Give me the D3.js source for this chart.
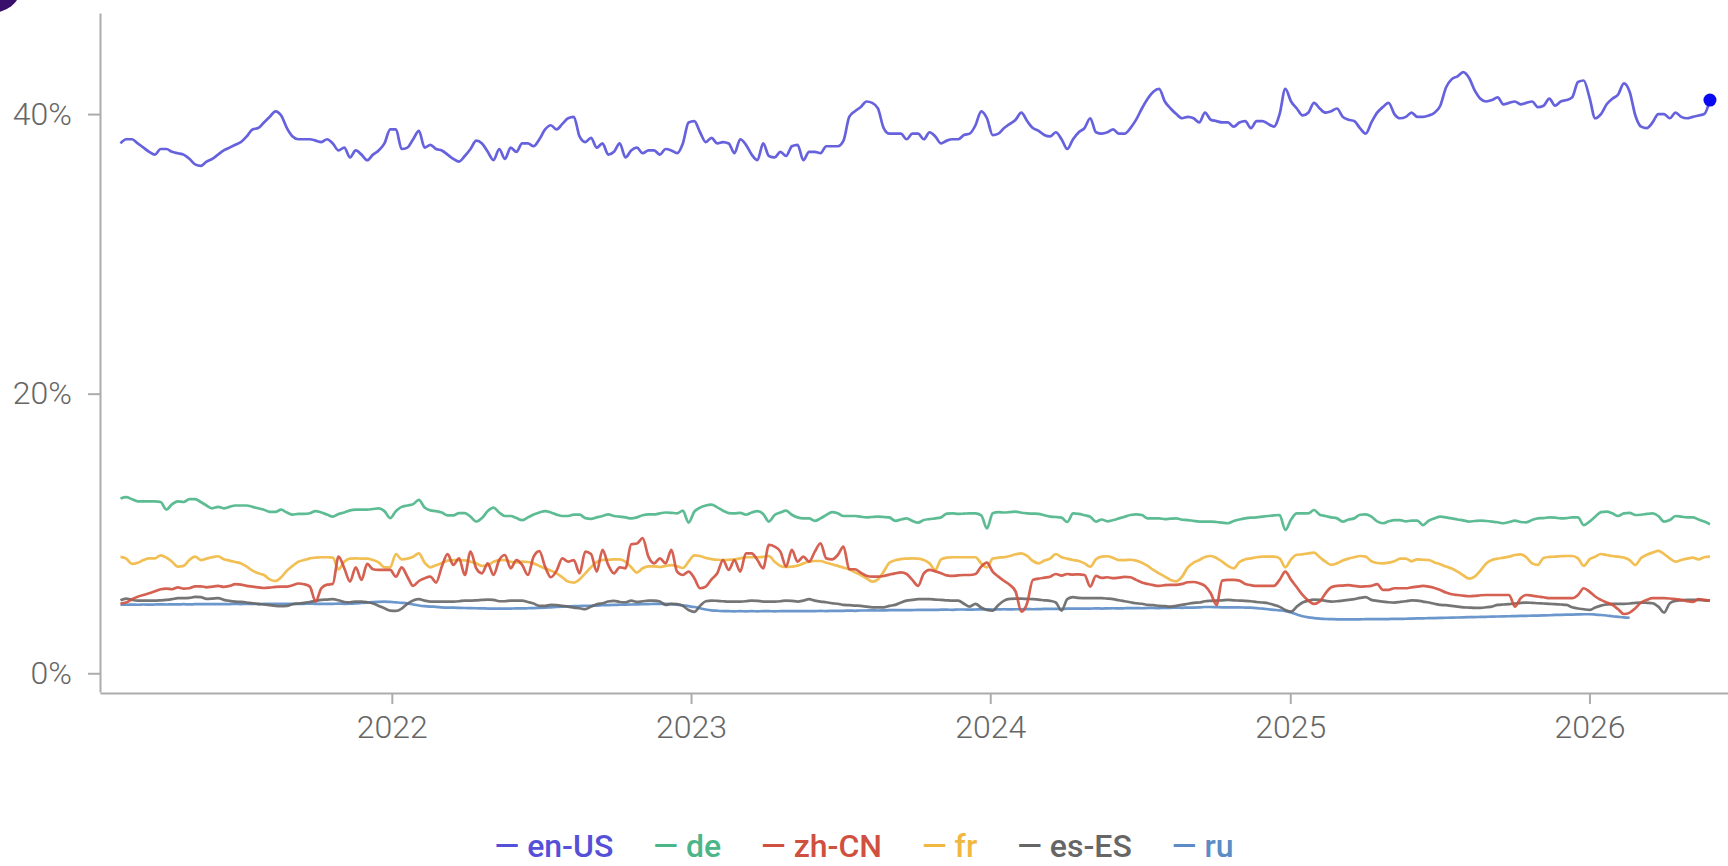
<html>
<head>
  <script src="https://cdn.jsdelivr.net/npm/d3@7"></script>
  <meta charset="UTF-8">
  <style>
  body {
    margin: 0;
    background: #fff;
    font-family: Roboto, "Noto Sans", sans-serif;
  }
  svg { display: block; }
  </style>
</head>
<body>
<div id="chart"></div>
<script>

// share of traffic per locale, weekly, in percent
const locales = ['en-US', 'de', 'zh-CN', 'fr', 'es-ES', 'ru'];
const colors  = ['#5550d8', '#4cb58a', '#d0503f', '#f0b840', '#666666', '#5b8cc6'];
const firstWeek = new Date(Date.UTC(2021, 1, 4));
const yTicks = [0, 20, 40];

const enUS = [
  37.9, 38.2, 38.2, 37.9, 37.6, 37.3, 37.1, 37.5, 37.5, 37.3,
  37.2, 37.1, 36.8, 36.4, 36.3, 36.6, 36.8, 37.1, 37.4, 37.6,
  37.8, 38.0, 38.4, 38.9, 39.0, 39.4, 39.8, 40.2, 39.9, 39.0,
  38.4, 38.2, 38.2, 38.2, 38.1, 38.0, 38.2, 37.9, 37.4, 37.6,
  36.9, 37.4, 37.1, 36.7, 37.1, 37.4, 37.9, 38.9, 38.9, 37.5,
  37.6, 38.2, 38.8, 37.6, 37.8, 37.5, 37.4, 37.1, 36.8, 36.6,
  37.0, 37.5, 38.1, 37.9, 37.3, 36.7, 37.5, 36.8, 37.6, 37.3,
  37.9, 37.9, 37.7, 38.2, 38.9, 39.2, 38.9, 39.3, 39.7, 39.8,
  38.4, 38.0, 38.3, 37.6, 37.9, 37.1, 37.3, 37.9, 36.9, 37.4,
  37.6, 37.2, 37.4, 37.4, 37.1, 37.5, 37.4, 37.2, 37.9, 39.4,
  39.5, 38.7, 38.0, 38.3, 37.9, 38.0, 37.9, 37.2, 38.2, 37.8,
  37.1, 36.7, 37.9, 37.0, 36.9, 37.3, 37.0, 37.7, 37.8, 36.7,
  37.3, 37.3, 37.2, 37.7, 37.7, 37.7, 38.1, 39.8, 40.2, 40.5,
  40.9, 40.8, 40.4, 39.0, 38.6, 38.6, 38.6, 38.2, 38.6, 38.6,
  38.2, 38.7, 38.4, 37.9, 38.1, 38.2, 38.2, 38.5, 38.6, 39.2,
  40.2, 39.7, 38.5, 38.6, 39.0, 39.3, 39.6, 40.1, 39.5, 39.0,
  38.8, 38.5, 38.4, 38.7, 38.2, 37.5, 38.2, 38.7, 39.0, 39.7,
  38.7, 38.6, 38.7, 38.9, 38.6, 38.6, 39.0, 39.6, 40.4, 41.1,
  41.6, 41.8, 40.9, 40.4, 40.0, 39.7, 39.8, 39.7, 39.4, 40.1,
  39.6, 39.5, 39.4, 39.4, 39.1, 39.4, 39.5, 39.0, 39.5, 39.5,
  39.3, 39.1, 40.0, 41.8, 40.9, 40.4, 39.9, 40.1, 40.8, 40.4,
  40.1, 40.2, 40.4, 39.8, 39.6, 39.5, 39.0, 38.6, 39.4, 40.1,
  40.5, 40.8, 40.0, 39.7, 39.8, 40.1, 39.8, 39.8, 39.9, 40.1,
  40.6, 41.9, 42.5, 42.7, 43.0, 42.6, 41.7, 41.1, 40.9, 41.0,
  41.2, 40.7, 40.8, 40.9, 40.7, 40.8, 40.9, 40.5, 40.6, 41.1,
  40.6, 40.9, 41.0, 41.2, 42.3, 42.4, 41.2, 39.7, 40.0, 40.7,
  41.1, 41.4, 42.2, 41.6, 39.9, 39.1, 39.0, 39.4, 40.0, 40.0,
  39.7, 40.1, 39.8, 39.7, 39.8, 39.9, 40.0, 41.0
];

const de = [
  12.5, 12.6, 12.45, 12.3, 12.3, 12.3, 12.3, 12.25, 11.7, 12.1,
  12.3, 12.25, 12.45, 12.45, 12.25, 12.0, 11.8, 11.9, 11.8, 11.9,
  12.0, 12.0, 12.0, 11.9, 11.8, 11.7, 11.55, 11.55, 11.7, 11.5,
  11.35, 11.4, 11.4, 11.45, 11.6, 11.5, 11.35, 11.2, 11.4, 11.5,
  11.65, 11.7, 11.7, 11.7, 11.75, 11.8, 11.6, 11.1, 11.6, 11.9,
  12.0, 12.1, 12.4, 11.85, 11.65, 11.6, 11.5, 11.3, 11.3, 11.45,
  11.45, 11.2, 10.85, 11.1, 11.6, 11.85, 11.5, 11.25, 11.25, 11.1,
  10.95, 11.15, 11.35, 11.5, 11.6, 11.5, 11.35, 11.25, 11.25, 11.35,
  11.35, 11.1, 11.05, 11.15, 11.25, 11.36, 11.25, 11.2, 11.15, 11.08,
  11.15, 11.3, 11.36, 11.36, 11.44, 11.5, 11.48, 11.44, 11.63, 10.78,
  11.56, 11.85, 12.0, 12.06, 11.87, 11.63, 11.46, 11.44, 11.48, 11.34,
  11.5, 11.6, 11.4, 10.85, 11.32, 11.5, 11.63, 11.34, 11.15, 11.08,
  11.08, 10.9, 11.08, 11.32, 11.53, 11.44, 11.25, 11.25, 11.25, 11.2,
  11.15, 11.18, 11.2, 11.18, 11.15, 10.9, 11.0, 11.08, 10.9, 10.78,
  10.96, 11.03, 11.08, 11.15, 11.42, 11.44, 11.4, 11.42, 11.44, 11.44,
  11.3, 10.37, 11.44, 11.53, 11.5, 11.53, 11.56, 11.48, 11.44, 11.42,
  11.4, 11.3, 11.2, 11.18, 11.13, 10.82, 11.44, 11.4, 11.3, 11.2,
  10.85, 11.0, 10.87, 10.96, 11.08, 11.2, 11.32, 11.36, 11.32, 11.08,
  11.08, 11.08, 11.03, 11.06, 11.08, 10.98, 10.96, 10.9, 10.85, 10.85,
  10.85, 10.82, 10.77, 10.73, 10.89, 11.0, 11.08, 11.13, 11.15, 11.2,
  11.25, 11.3, 11.32, 10.25, 11.0, 11.44, 11.44, 11.44, 11.68, 11.34,
  11.25, 11.15, 11.08, 10.85, 11.0, 11.08, 11.34, 11.36, 11.2, 10.87,
  10.73, 10.87, 10.96, 10.96, 10.87, 10.92, 10.92, 10.6, 10.92, 11.08,
  11.2, 11.15, 11.08, 11.0, 10.94, 10.85, 10.89, 10.92, 10.89, 10.85,
  10.8, 10.73, 10.82, 10.92, 10.82, 10.8, 10.96, 11.08, 11.1, 11.15,
  11.13, 11.08, 11.1, 11.15, 11.15, 10.6, 10.85, 11.2, 11.53, 11.56,
  11.44, 11.25, 11.44, 11.48, 11.32, 11.34, 11.4, 11.44, 11.25, 10.85,
  10.96, 11.25, 11.2, 11.15, 11.15, 11.0, 10.85, 10.66
];

const zhCN = [
  4.99, 5.06, 5.3, 5.48, 5.6, 5.72, 5.86, 6.01, 6.06, 6.01,
  6.15, 6.06, 6.08, 6.22, 6.22, 6.15, 6.2, 6.25, 6.18, 6.25,
  6.37, 6.34, 6.25, 6.2, 6.15, 6.1, 6.13, 6.18, 6.2, 6.2,
  6.3, 6.42, 6.37, 6.2, 5.13, 6.08, 6.34, 6.39, 8.34, 7.51,
  6.56, 7.58, 6.68, 7.82, 7.44, 7.39, 7.39, 7.39, 6.91, 7.58,
  6.91, 6.25, 6.6, 6.8, 6.91, 6.49, 7.63, 8.53, 7.75, 8.22,
  7.03, 8.7, 7.51, 7.15, 7.86, 7.03, 8.1, 8.46, 7.51, 8.1,
  7.75, 7.03, 8.34, 8.73, 7.63, 6.87, 7.34, 8.22, 7.98, 8.1,
  7.15, 8.7, 8.53, 7.27, 8.82, 7.75, 7.15, 7.58, 7.51, 9.23,
  9.28, 9.66, 8.34, 7.86, 8.22, 7.86, 8.82, 7.27, 7.03, 7.27,
  6.8, 6.08, 6.2, 6.72, 7.15, 8.1, 7.39, 8.1, 7.27, 8.58,
  8.58, 8.1, 7.51, 9.18, 9.06, 8.7, 7.63, 8.82, 7.98, 8.34,
  7.98, 8.7, 9.3, 8.22, 8.15, 8.46, 9.06, 7.44, 7.44, 7.2,
  6.98, 6.91, 6.91, 6.96, 7.06, 7.15, 7.22, 7.1, 6.68, 6.25,
  7.15, 7.39, 7.29, 7.15, 7.0, 6.96, 7.0, 7.03, 7.03, 7.1,
  7.63, 7.91, 7.27, 6.91, 6.6, 6.32, 5.84, 4.41, 5.01, 6.68,
  6.77, 6.84, 6.91, 7.1, 6.98, 7.1, 7.06, 7.08, 7.03, 6.2,
  6.96, 6.82, 6.87, 6.8, 6.84, 6.89, 6.87, 6.68, 6.49, 6.39,
  6.3, 6.25, 6.3, 6.32, 6.32, 6.39, 6.51, 6.53, 6.44, 6.25,
  5.72, 4.89, 6.63, 6.68, 6.68, 6.63, 6.39, 6.3, 6.25, 6.25,
  6.25, 6.25, 6.68, 7.27, 6.68, 6.15, 5.6, 5.2, 4.96, 5.13,
  5.72, 6.15, 6.25, 6.27, 6.3, 6.25, 6.2, 6.22, 6.25, 6.37,
  5.96, 5.96, 6.08, 6.08, 6.08, 6.15, 6.2, 6.25, 6.2, 6.1,
  5.96, 5.77, 5.65, 5.6, 5.55, 5.51, 5.53, 5.58, 5.6, 5.6,
  5.6, 5.6, 5.6, 4.77, 5.37, 5.6, 5.55, 5.49, 5.44, 5.37,
  5.37, 5.37, 5.37, 5.37, 5.6, 6.08, 5.84, 5.49, 5.25, 5.06,
  4.89, 4.58, 4.24, 4.34, 4.65, 5.06, 5.25, 5.37, 5.37, 5.37,
  5.35, 5.3, 5.25, 5.15, 5.1, 5.3, 5.25, 5.2
];

const fr = [
  8.32, 8.2, 7.82, 7.9, 8.1, 8.22, 8.22, 8.44, 8.27, 7.98,
  7.63, 7.68, 8.1, 8.34, 8.1, 8.2, 8.3, 8.37, 8.15, 8.06,
  7.96, 7.86, 7.63, 7.34, 7.15, 7.03, 6.72, 6.6, 6.87, 7.34,
  7.68, 7.98, 8.1, 8.22, 8.27, 8.3, 8.3, 8.27, 7.44, 7.98,
  8.2, 8.22, 8.2, 8.2, 8.1, 7.93, 7.58, 7.58, 8.53, 8.15,
  8.2, 8.34, 8.58, 7.91, 7.58, 7.73, 7.89, 8.06, 8.1, 8.1,
  8.08, 7.98, 7.86, 7.68, 7.73, 7.98, 8.1, 8.1, 7.98, 7.93,
  7.98, 7.96, 7.86, 7.68, 7.49, 7.34, 7.15, 6.87, 6.56, 6.49,
  6.72, 7.15, 7.58, 7.96, 8.1, 8.12, 8.15, 8.15, 7.98, 7.58,
  7.2, 7.51, 7.65, 7.65, 7.6, 7.68, 7.73, 7.65, 7.53, 7.98,
  8.44, 8.39, 8.25, 8.17, 8.12, 8.1, 8.12, 8.15, 8.22, 8.3,
  8.3, 8.3, 8.32, 8.39, 7.98, 7.68, 7.6, 7.63, 7.7, 7.86,
  7.98, 8.03, 8.03, 7.91, 7.8, 7.68, 7.56, 7.44, 7.22, 7.03,
  6.8, 6.56, 6.72, 7.27, 7.91, 8.08, 8.17, 8.2, 8.22, 8.2,
  8.1, 7.86, 7.39, 8.15, 8.27, 8.3, 8.3, 8.3, 8.3, 8.3,
  7.86, 7.58, 8.2, 8.27, 8.3, 8.39, 8.51, 8.58, 8.39, 8.03,
  7.86, 8.06, 8.2, 8.53, 8.3, 8.2, 8.1, 8.03, 7.86, 7.63,
  8.15, 8.34, 8.37, 8.25, 8.1, 8.1, 8.12, 8.06, 7.91, 7.68,
  7.39, 7.15, 6.91, 6.68, 6.58, 6.91, 7.58, 7.91, 8.1, 8.32,
  8.39, 8.25, 7.98, 7.68, 7.51, 7.96, 8.15, 8.22, 8.3, 8.34,
  8.34, 8.34, 8.22, 7.58, 8.15, 8.48, 8.51, 8.58, 8.63, 8.3,
  7.98, 7.75, 7.86, 8.06, 8.2, 8.3, 8.39, 8.34, 8.01, 7.89,
  7.86, 7.91, 8.01, 8.2, 8.2, 8.01, 8.15, 8.12, 8.1, 7.93,
  7.8, 7.63, 7.49, 7.27, 7.01, 6.77, 6.91, 7.34, 7.86, 8.1,
  8.2, 8.27, 8.34, 8.46, 8.51, 8.3, 7.86, 7.75, 8.25, 8.32,
  8.34, 8.37, 8.39, 8.39, 8.22, 7.68, 8.15, 8.34, 8.53, 8.46,
  8.39, 8.34, 8.27, 8.1, 7.75, 8.25, 8.48, 8.63, 8.75, 8.53,
  8.22, 7.98, 8.1, 8.2, 8.27, 8.15, 8.3, 8.34
];

const esES = [
  5.22, 5.34, 5.25, 5.2, 5.2, 5.2, 5.2, 5.22, 5.25, 5.3,
  5.37, 5.37, 5.39, 5.46, 5.44, 5.32, 5.34, 5.37, 5.25, 5.18,
  5.13, 5.1, 5.06, 5.01, 4.97, 4.92, 4.87, 4.82, 4.8, 4.82,
  4.94, 4.99, 5.04, 5.1, 5.18, 5.25, 5.27, 5.3, 5.22, 5.1,
  5.08, 5.13, 5.13, 5.08, 4.99, 4.82, 4.65, 4.48, 4.46, 4.63,
  4.97, 5.2, 5.3, 5.2, 5.13, 5.13, 5.13, 5.13, 5.13, 5.15,
  5.2, 5.2, 5.22, 5.25, 5.27, 5.25, 5.15, 5.15, 5.2, 5.2,
  5.2, 5.1, 4.99, 4.82, 4.82, 4.89, 4.87, 4.82, 4.77, 4.7,
  4.65, 4.58, 4.77, 4.94, 5.01, 5.13, 5.18, 5.1, 5.08, 5.2,
  5.1, 5.15, 5.2, 5.2, 5.13, 4.89, 4.97, 4.94, 4.82, 4.53,
  4.39, 4.82, 5.15, 5.2, 5.18, 5.15, 5.13, 5.13, 5.13, 5.15,
  5.2, 5.18, 5.13, 5.13, 5.13, 5.15, 5.2, 5.18, 5.13, 5.2,
  5.3, 5.2, 5.13, 5.08, 5.01, 4.97, 4.89, 4.87, 4.84, 4.82,
  4.77, 4.72, 4.72, 4.72, 4.82, 4.89, 5.06, 5.2, 5.25, 5.3,
  5.3, 5.3, 5.27, 5.25, 5.22, 5.2, 5.2, 4.97, 4.77, 4.97,
  4.7, 4.53, 4.48, 4.89, 5.2, 5.32, 5.34, 5.34, 5.32, 5.3,
  5.27, 5.22, 5.18, 5.06, 4.48, 5.3, 5.44, 5.39, 5.37, 5.37,
  5.37, 5.37, 5.34, 5.3, 5.22, 5.15, 5.08, 5.01, 4.97, 4.89,
  4.87, 4.82, 4.8, 4.77, 4.82, 4.89, 4.97, 5.04, 5.06, 5.15,
  5.18, 5.2, 5.22, 5.25, 5.22, 5.2, 5.18, 5.15, 5.1, 5.06,
  5.01, 4.89, 4.75, 4.53, 4.41, 4.77, 5.06, 5.2, 5.27, 5.25,
  5.18, 5.13, 5.15, 5.2, 5.25, 5.3, 5.39, 5.44, 5.25, 5.18,
  5.13, 5.08, 5.06, 5.1, 5.15, 5.22, 5.2, 5.13, 5.06, 4.97,
  4.89, 4.87, 4.82, 4.77, 4.72, 4.7, 4.68, 4.68, 4.72, 4.77,
  4.89, 4.92, 4.94, 4.99, 5.04, 5.06, 5.04, 5.01, 4.99, 4.97,
  4.94, 4.92, 4.89, 4.72, 4.63, 4.58, 4.53, 4.7, 4.84, 4.92,
  4.97, 4.97, 4.97, 4.99, 5.04, 5.06, 5.04, 5.01, 4.77, 4.34,
  5.01, 5.18, 5.22, 5.25, 5.25, 5.25, 5.22, 5.2
];

// ru stops reporting in early 2026
const ru = [
  4.9, 4.9, 4.91, 4.9, 4.92, 4.91, 4.92, 4.93, 4.92, 4.93,
  4.93, 4.94, 4.93, 4.94, 4.94, 4.95, 4.94, 4.95, 4.95, 4.95,
  4.96, 4.95, 4.96, 4.96, 4.95, 4.96, 4.97, 4.96, 4.97, 4.97,
  4.97, 4.96, 4.97, 4.98, 4.97, 4.97, 4.96, 4.97, 4.98, 4.97,
  4.98, 5.0, 5.03, 5.06, 5.09, 5.11, 5.12, 5.1, 5.07, 5.04,
  5.0, 4.92, 4.85, 4.8, 4.77, 4.75, 4.72, 4.7, 4.69, 4.68,
  4.67, 4.66, 4.65, 4.64, 4.63, 4.62, 4.63, 4.62, 4.63, 4.64,
  4.64, 4.65, 4.66, 4.68, 4.7, 4.72, 4.74, 4.76, 4.78, 4.8,
  4.81, 4.82, 4.83, 4.84, 4.87, 4.88, 4.89, 4.9, 4.91, 4.92,
  4.93, 4.94, 4.95, 4.96, 4.96, 4.96, 4.95, 4.9, 4.85, 4.8,
  4.74, 4.65, 4.56, 4.5, 4.47, 4.45, 4.44, 4.43, 4.44, 4.43,
  4.44, 4.43, 4.44, 4.44, 4.43, 4.44, 4.44, 4.45, 4.44, 4.44,
  4.45, 4.45, 4.46, 4.45, 4.46, 4.47, 4.47, 4.48, 4.47, 4.49,
  4.49, 4.5, 4.49, 4.5, 4.51, 4.51, 4.52, 4.51, 4.52, 4.53,
  4.53, 4.54, 4.53, 4.55, 4.55, 4.54, 4.56, 4.56, 4.55, 4.56,
  4.57, 4.57, 4.56, 4.57, 4.58, 4.57, 4.58, 4.58, 4.59, 4.58,
  4.59, 4.6, 4.6, 4.61, 4.6, 4.62, 4.62, 4.63, 4.62, 4.63,
  4.64, 4.63, 4.64, 4.65, 4.64, 4.65, 4.66, 4.66, 4.65, 4.67,
  4.67, 4.66, 4.68, 4.68, 4.69, 4.68, 4.7, 4.7, 4.71, 4.74,
  4.74, 4.73, 4.72, 4.72, 4.71, 4.71, 4.7, 4.69, 4.66, 4.62,
  4.58, 4.54, 4.5, 4.45, 4.35, 4.2, 4.08, 4.0, 3.95, 3.91,
  3.88, 3.87, 3.86, 3.86, 3.85, 3.86, 3.86, 3.87, 3.87, 3.87,
  3.88, 3.88, 3.89, 3.89, 3.9, 3.91, 3.92, 3.93, 3.94, 3.95,
  3.96, 3.97, 3.98, 3.99, 4.0, 4.01, 4.02, 4.03, 4.04, 4.05,
  4.06, 4.07, 4.08, 4.09, 4.1, 4.11, 4.12, 4.13, 4.14, 4.15,
  4.17, 4.18, 4.19, 4.2, 4.21, 4.22, 4.22, 4.2, 4.17, 4.13,
  4.08, 4.04, 4.0, 3.97, null, null, null, null, null, null,
  null, null, null, null, null, null, null, null
];

const seriesValues = [enUS, de, zhCN, fr, esES, ru];

const width = 1728, height = 866;

const svg = d3.select('#chart').append('svg')
  .attr('width', width)
  .attr('height', height);

// the dark corner that shows in the top-left of the capture
svg.append('ellipse')
  .attr('cx', -10).attr('cy', -10)
  .attr('rx', 30).attr('ry', 23)
  .attr('fill', '#3a0f6b');

const weeks = enUS.map((d, i) => d3.utcDay.offset(firstWeek, 7 * i));

const x = d3.scaleUtc()
  .domain([new Date(Date.UTC(2021, 0, 10)), new Date(Date.UTC(2026, 5, 19))])
  .range([100, 1728]);

const y = d3.scaleLinear()
  .domain([-1.34, 47.23])
  .range([692, 13]);

// axes
const xAxis = svg.append('g')
  .attr('class', 'x-axis')
  .attr('transform', 'translate(0,693)')
  .call(d3.axisBottom(x)
    .ticks(d3.utcYear.every(1))
    .tickFormat(d3.utcFormat('%Y'))
    .tickSize(11)
    .tickSizeOuter(0)
    .tickPadding(11));

const yAxis = svg.append('g')
  .attr('class', 'y-axis')
  .attr('transform', 'translate(100,0)')
  .call(d3.axisLeft(y)
    .tickValues(yTicks)
    .tickFormat(d => d + '%')
    .tickSize(12)
    .tickSizeOuter(0)
    .tickPadding(16));

svg.selectAll('.x-axis, .y-axis').each(function() {
  const g = d3.select(this);
  g.select('.domain').attr('stroke', '#acacac').attr('stroke-width', 2);
  g.selectAll('.tick line').attr('stroke', '#acacac').attr('stroke-width', 2);
  g.selectAll('.tick text')
    .attr('fill', '#666')
    .style('font-family', 'Roboto, sans-serif')
    .style('font-weight', 300)
    .style('font-size', '32px');
});

// lines, drawn back to front so en-US ends on top
const line = d3.line()
  .defined(d => d[1] != null)
  .x(d => x(d[0]))
  .y(d => y(d[1]))
  .curve(d3.curveMonotoneX);

const order = [5, 4, 3, 2, 1, 0];
svg.append('g').attr('class', 'lines')
  .selectAll('path')
  .data(order)
  .join('path')
    .attr('fill', 'none')
    .attr('stroke', i => colors[i])
    .attr('stroke-width', 2.7)
    .attr('stroke-opacity', 0.9)
    .attr('stroke-linejoin', 'round')
    .attr('d', i => line(seriesValues[i].map((v, k) => [weeks[k], v])));

// marker on the latest en-US value
const lastIdx = enUS.length - 1;
svg.append('circle')
  .attr('cx', x(weeks[lastIdx]))
  .attr('cy', y(enUS[lastIdx]))
  .attr('r', 6.5)
  .attr('fill', '#0a0af0');

// legend, centered under the chart
const legend = svg.append('g').attr('class', 'legend');
const items = legend.selectAll('text')
  .data(locales)
  .join('text')
    .text(d => '\u2014 ' + d)
    .attr('y', 857)
    .attr('fill', (d, i) => colors[i])
    .style('font-family', 'Roboto, sans-serif')
    .style('font-weight', 500)
    .style('font-size', '32px');

const gap = 40;
const widths = [];
items.each(function() { widths.push(this.getComputedTextLength()); });
const total = d3.sum(widths) + gap * (widths.length - 1);
let cursor = 864 - total / 2;
items.attr('x', (d, i) => {
  const pos = cursor;
  cursor += widths[i] + gap;
  return pos;
});

</script>
</body>
</html>
